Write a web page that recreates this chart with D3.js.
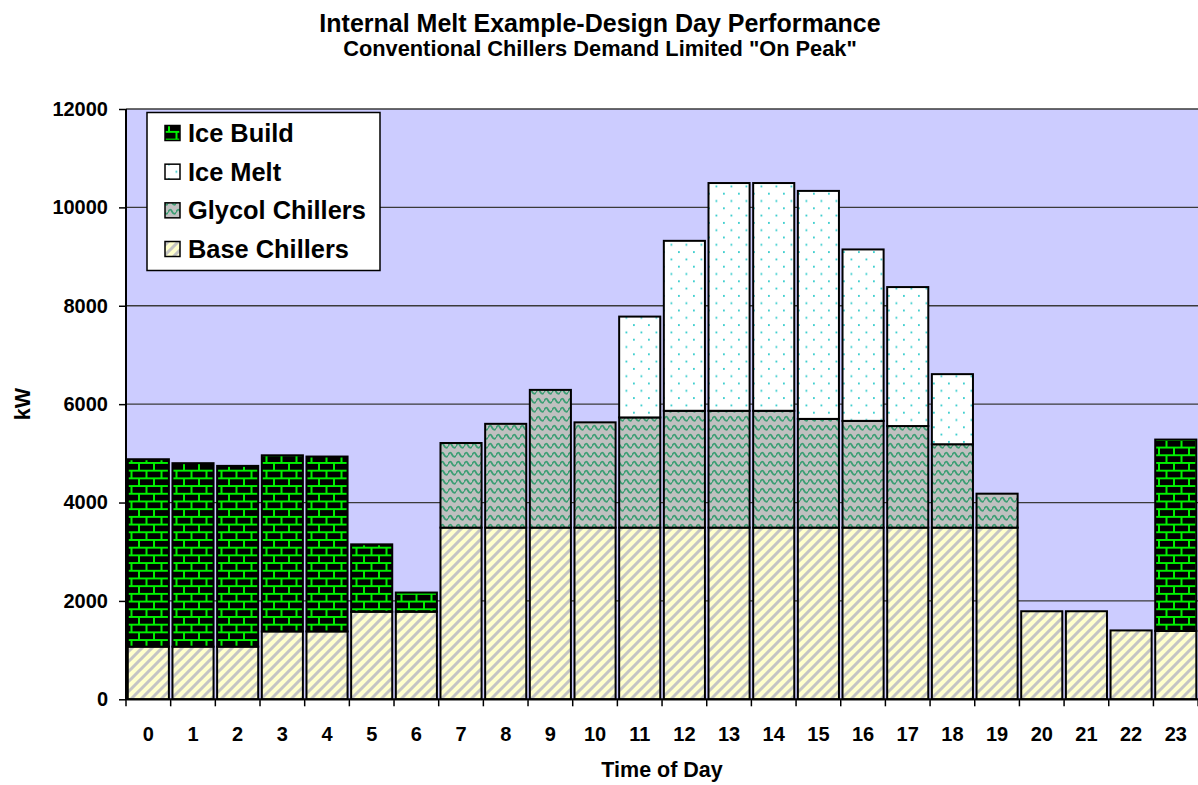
<!DOCTYPE html>
<html>
<head>
<meta charset="utf-8">
<script src="https://cdn.jsdelivr.net/npm/d3@7"></script>
<style>
  html, body { margin: 0; padding: 0; background: #fff; }
  svg { display: block; }
  text { font-family: "Liberation Sans", Arial, sans-serif; font-weight: bold; fill: #000; }
</style>
</head>
<body>
<svg id="chart" width="1198" height="785"></svg>
<script>
// ---------------- data ----------------
const hours = ["0","1","2","3","4","5","6","7","8","9","10","11","12","13","14","15","16","17","18","19","20","21","22","23"];
const baseChillers   = [1070,1070,1070,1380,1380,1780,1780,3490,3490,3490,3490,3490,3490,3490,3490,3490,3490,3490,3490,3490,1790,1790,1400,1390];
const glycolChillers = [0,0,0,0,0,0,0,1720,2110,2800,2140,2240,2375,2375,2375,2210,2170,2065,1695,690,0,0,0,0];
const iceMelt        = [0,0,0,0,0,0,0,0,0,0,0,2050,3455,4630,4630,4635,3485,2825,1425,0,0,0,0,0];
const iceBuild       = [3810,3730,3675,3580,3555,1370,390,0,0,0,0,0,0,0,0,0,0,0,0,0,0,0,0,3890];
const yTicks = [0,2000,4000,6000,8000,10000,12000];
const seriesNames = ["Base Chillers","Glycol Chillers","Ice Melt","Ice Build"];
const legendOrder = ["Ice Build","Ice Melt","Glycol Chillers","Base Chillers"];
const titleText = "Internal Melt Example-Design Day Performance";
const subtitleText = "Conventional Chillers Demand Limited \"On Peak\"";
const xTitle = "Time of Day";
const yTitle = "kW";

// ---------------- layout ----------------
const svg = d3.select("#chart");
const W = 1198, H = 785;
const plot = {left: 126, right: 1198.1, top: 109, bottom: 699.3};

svg.append("rect").attr("width", W).attr("height", H).attr("fill", "#fff");

// ---------------- patterns ----------------
const defs = svg.append("defs");
const patKey = {"Base Chillers":"pBase","Glycol Chillers":"pGlycol","Ice Melt":"pMelt","Ice Build":"pBuild"};

// Base chillers: light yellow with gray upward diagonal stripes
{
  const p = defs.append("pattern").attr("id","pBase").attr("patternUnits","userSpaceOnUse")
    .attr("width",10).attr("height",10);
  p.append("rect").attr("width",10).attr("height",10).attr("fill","#FFFFCC");
  p.append("path").attr("d","M-3,3 L3,-3 M0,10 L10,0 M7,13 L13,7")
    .attr("stroke","#C4C4C4").attr("stroke-width",3);
}
// Glycol chillers: gray with sea-green waves
{
  const p = defs.append("pattern").attr("id","pGlycol").attr("patternUnits","userSpaceOnUse")
    .attr("width",8).attr("height",9);
  p.append("rect").attr("width",8).attr("height",9).attr("fill","#C0C0C0");
  p.append("path").attr("d","M0,5.5 Q2,0.5 4,4.5 T8,5.5")
    .attr("fill","none").attr("stroke","#3C9E74").attr("stroke-width",1.8);
}
// Ice melt: white with sparse cyan dots
{
  const p = defs.append("pattern").attr("id","pMelt").attr("patternUnits","userSpaceOnUse")
    .attr("width",15).attr("height",14.6);
  p.append("rect").attr("width",15).attr("height",14.6).attr("fill","#FFFFFF");
  p.append("rect").attr("x",3).attr("y",3).attr("width",1.8).attr("height",1.8).attr("fill","#33CCCC");
  p.append("rect").attr("x",10.5).attr("y",10.3).attr("width",1.8).attr("height",1.8).attr("fill","#33CCCC");
}
// Ice build: black with green bricks
{
  const p = defs.append("pattern").attr("id","pBuild").attr("patternUnits","userSpaceOnUse")
    .attr("width",15).attr("height",15.4);
  p.append("rect").attr("width",15).attr("height",15.4).attr("fill","#000");
  p.append("path").attr("d","M0,1 H15 M0,8.7 H15 M4,1 V8.7 M11.5,8.7 V15.4")
    .attr("stroke","#00F000").attr("stroke-width",2).attr("fill","none");
}

// ---------------- scales ----------------
const x = d3.scaleBand().domain(hours).range([plot.left, plot.right]).paddingInner(0.08).paddingOuter(0.04);
const y = d3.scaleLinear().domain([0, 12000]).range([plot.bottom, plot.top]);

// plot background
svg.append("rect").attr("x", plot.left).attr("y", plot.top)
  .attr("width", plot.right - plot.left).attr("height", plot.bottom - plot.top)
  .attr("fill", "#CCCCFF");

// gridlines
svg.append("g").selectAll("line").data(yTicks.filter(d => d > 0)).join("line")
  .attr("x1", plot.left).attr("x2", plot.right)
  .attr("y1", d => y(d)).attr("y2", d => y(d))
  .attr("stroke", "#3a3a3a").attr("stroke-width", 1.3);

// ---------------- stacked bars ----------------
const table = hours.map((h, i) => ({
  hour: h,
  "Base Chillers": baseChillers[i],
  "Glycol Chillers": glycolChillers[i],
  "Ice Melt": iceMelt[i],
  "Ice Build": iceBuild[i]
}));
const stacked = d3.stack().keys(seriesNames)(table);

const gBars = svg.append("g");
stacked.forEach(layer => {
  gBars.append("g")
    .selectAll("rect")
    .data(layer.filter(d => d[1] - d[0] > 0))
    .join("rect")
    .attr("x", d => x(d.data.hour))
    .attr("width", x.bandwidth())
    .attr("y", d => y(d[1]))
    .attr("height", d => y(d[0]) - y(d[1]))
    .attr("fill", `url(#${patKey[layer.key]})`)
    .attr("stroke", "#000")
    .attr("stroke-width", 2);
});

// ---------------- axes ----------------
const yAxis = d3.axisLeft(y).tickValues(yTicks).tickSize(7).tickPadding(11).tickFormat(d => String(d));
const gy = svg.append("g").attr("transform", `translate(${plot.left},0)`).call(yAxis);
gy.select(".domain").remove();
gy.selectAll(".tick line").attr("stroke", "#000").attr("stroke-width", 1.5);
gy.selectAll(".tick text").attr("font-size", 20).attr("font-family", "Liberation Sans, Arial, sans-serif")
  .attr("font-weight", "bold").attr("fill", "#000");

const xAxis = d3.axisBottom(x).tickSize(0).tickPadding(0);
const gx = svg.append("g").attr("transform", `translate(0,${plot.bottom})`).call(xAxis);
gx.select(".domain").remove();
gx.selectAll(".tick text").attr("font-size", 20).attr("font-family", "Liberation Sans, Arial, sans-serif")
  .attr("font-weight", "bold").attr("fill", "#000").attr("dy", null).attr("y", 41.5);

// category boundary ticks
const step = x.step();
const bounds = d3.range(hours.length + 1).map(i => plot.left + i * step);
svg.append("g").selectAll("line").data(bounds).join("line")
  .attr("x1", d => d).attr("x2", d => d)
  .attr("y1", plot.bottom).attr("y2", plot.bottom + 7)
  .attr("stroke", "#000").attr("stroke-width", 1.5);

// axis lines
svg.append("line").attr("x1", plot.left).attr("x2", plot.left).attr("y1", plot.top).attr("y2", plot.bottom)
  .attr("stroke", "#000").attr("stroke-width", 2);
svg.append("line").attr("x1", plot.left).attr("x2", plot.right).attr("y1", plot.bottom).attr("y2", plot.bottom)
  .attr("stroke", "#000").attr("stroke-width", 2);

// ---------------- titles ----------------
svg.append("text").attr("x", 600).attr("y", 32).attr("text-anchor", "middle")
  .attr("font-size", 25).text(titleText);
svg.append("text").attr("x", 600).attr("y", 56).attr("text-anchor", "middle")
  .attr("font-size", 21.8).text(subtitleText);
svg.append("text").attr("x", (plot.left + plot.right) / 2).attr("y", 777).attr("text-anchor", "middle")
  .attr("font-size", 21.5).text(xTitle);
svg.append("text").attr("transform", `translate(30,${(plot.top + plot.bottom) / 2}) rotate(-90)`)
  .attr("text-anchor", "middle").attr("font-size", 21.5).text(yTitle);

// ---------------- legend ----------------
const lg = svg.append("g");
lg.append("rect").attr("x", 147).attr("y", 112.5).attr("width", 233).attr("height", 158)
  .attr("fill", "#fff").attr("stroke", "#000").attr("stroke-width", 1.5);
const rowY = d3.scalePoint().domain(legendOrder).range([133, 249]);
legendOrder.forEach(name => {
  const cy = rowY(name);
  lg.append("rect").attr("x", 165).attr("y", cy - 7.5).attr("width", 15).attr("height", 15)
    .attr("fill", `url(#${patKey[name]})`).attr("stroke", "#000").attr("stroke-width", 1.5);
  lg.append("text").attr("x", 188).attr("y", cy + 9).attr("font-size", 25.4).text(name);
});
</script>
</body>
</html>
